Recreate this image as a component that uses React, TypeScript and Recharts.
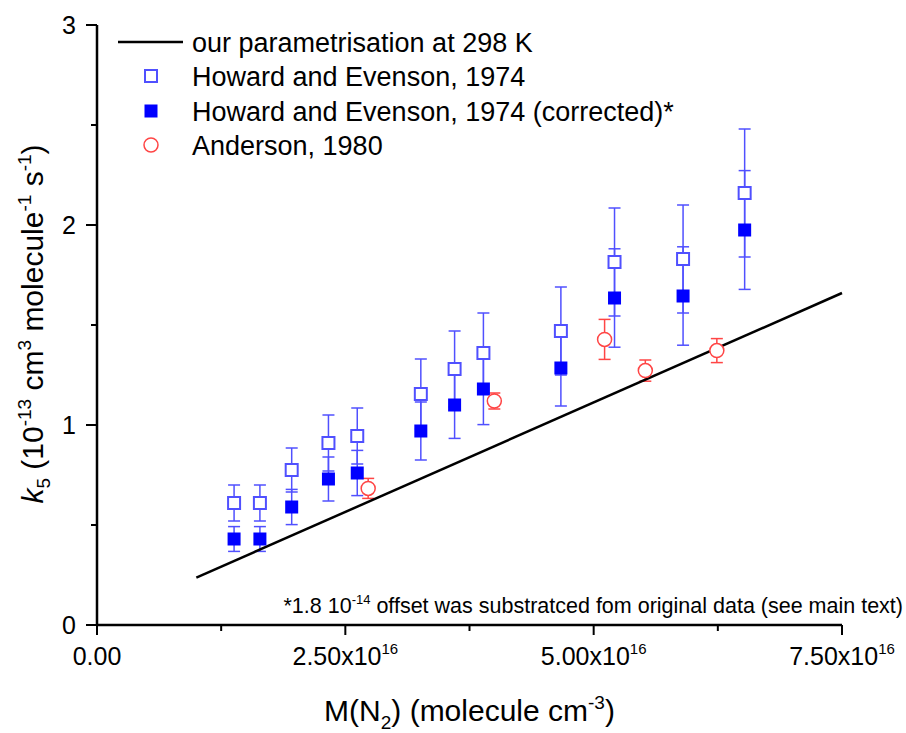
import React from 'react';
import { ScatterChart, Scatter, XAxis, YAxis, ErrorBar } from 'recharts';

const FONT = '"Liberation Sans", Arial, sans-serif';

// M(N2) in molecule cm^-3, k5 in 1e-13 cm3 molecule-1 s-1
const heX = [1.38e16, 1.64e16, 1.96e16, 2.33e16, 2.62e16, 3.26e16, 3.6e16, 3.89e16, 4.67e16, 5.21e16, 5.9e16, 6.52e16];
const heRaw = [0.61, 0.61, 0.775, 0.91, 0.945, 1.155, 1.28, 1.36, 1.47, 1.815, 1.83, 2.16];
const heRawErr = [0.09, 0.09, 0.11, 0.14, 0.14, 0.175, 0.19, 0.2, 0.22, 0.27, 0.27, 0.32];
const heCorr = [0.43, 0.43, 0.59, 0.73, 0.76, 0.97, 1.1, 1.18, 1.285, 1.635, 1.645, 1.975];
const heCorrErr = [0.062, 0.062, 0.088, 0.11, 0.113, 0.145, 0.167, 0.178, 0.19, 0.246, 0.246, 0.297];
const andX = [2.73e16, 4.0e16, 5.11e16, 5.52e16, 6.24e16];
const andK = [0.683, 1.12, 1.428, 1.272, 1.372];
const andErr = [0.05, 0.04, 0.1, 0.053, 0.06];
const fitX = [1.0e16, 7.5e16];
const fitK = [0.237, 1.66];

const xTicks = [0, 1.25e16, 2.5e16, 3.75e16, 5e16, 6.25e16, 7.5e16];
const xTickLabels: Record<number, [string, string]> = {
  0: ['0.00', ''],
  2.5e16: ['2.50x10', '16'],
  5e16: ['5.00x10', '16'],
  7.5e16: ['7.50x10', '16'],
};
const yTicks = [0, 0.5, 1, 1.5, 2, 2.5, 3];

const legendItems = [
  'our parametrisation at 298 K',
  'Howard and Evenson, 1974',
  'Howard and Evenson, 1974 (corrected)*',
  'Anderson, 1980',
];

const BLUE = '#0000ff';
const LIGHT_BLUE = '#5050ff';
const RED = '#ff4545';

const rawData = heX.map((x, i) => ({ x, y: heRaw[i], err: heRawErr[i] }));
const corrData = heX.map((x, i) => ({ x, y: heCorr[i], err: heCorrErr[i] }));
const andData = andX.map((x, i) => ({ x, y: andK[i], err: andErr[i] }));
const fitData = fitX.map((x, i) => ({ x, y: fitK[i] }));

const OpenSquare = (p: any) => (
  <rect x={p.cx - 6} y={p.cy - 6} width={12} height={12} fill="#fff" stroke={LIGHT_BLUE} strokeWidth={2} />
);
const FilledSquare = (p: any) => (
  <rect x={p.cx - 6.5} y={p.cy - 6.5} width={13} height={13} fill={BLUE} />
);
const OpenCircle = (p: any) => <circle cx={p.cx} cy={p.cy} r={7} fill="#fff" stroke={RED} strokeWidth={1.5} />;
const NoDot = () => <g />;

const XTick = ({ x, y, payload }: any) => {
  const lab = xTickLabels[payload.value];
  return (
    <g>
      <line x1={x} x2={x} y1={y} y2={y + (lab ? 10 : 6)} stroke="#000" strokeWidth={2} />
      {lab && (
        <text x={x} y={y + 40} textAnchor="middle" fontFamily={FONT} fontSize={25} fill="#000">
          {lab[0]}
          {lab[1] && (
            <tspan fontSize={15} dy={-11}>
              {lab[1]}
            </tspan>
          )}
        </text>
      )}
    </g>
  );
};

const YTick = ({ x, y, payload }: any) => {
  const major = Number.isInteger(payload.value);
  return (
    <g>
      <line x1={x - (major ? 11 : 6)} x2={x} y1={y} y2={y} stroke="#000" strokeWidth={2} />
      {major && (
        <text x={x - 21} y={y + 9} textAnchor="end" fontFamily={FONT} fontSize={25} fill="#000">
          {payload.value}
        </text>
      )}
    </g>
  );
};

const XTitle = ({ viewBox }: any) => {
  const cx = viewBox.x + viewBox.width / 2;
  return (
    <text x={cx} y={721} textAnchor="middle" fontFamily={FONT} fontSize={30} fill="#000">
      M(N
      <tspan fontSize={19} dy={8}>2</tspan>
      <tspan dy={-8}>) (molecule cm</tspan>
      <tspan fontSize={19} dy={-12}>-3</tspan>
      <tspan dy={12}>)</tspan>
    </text>
  );
};

const YTitle = () => (
  <text
    x={0}
    y={0}
    transform="translate(43,324) rotate(-90)"
    textAnchor="middle"
    fontFamily={FONT}
    fontSize={30}
    fill="#000"
  >
    <tspan fontStyle="italic">k</tspan>
    <tspan fontSize={19} dy={7}>5</tspan>
    <tspan dy={-7}> (10</tspan>
    <tspan fontSize={19} dy={-12}>-13</tspan>
    <tspan dy={12}> cm</tspan>
    <tspan fontSize={19} dy={-12}>3</tspan>
    <tspan dy={12}> molecule</tspan>
    <tspan fontSize={19} dy={-12}>-1</tspan>
    <tspan dy={12}> s</tspan>
    <tspan fontSize={19} dy={-12}>-1</tspan>
    <tspan dy={12}>)</tspan>
  </text>
);

const Overlay = () => {
  const rowY = [42, 76, 111, 145];
  return (
    <svg width={906} height={733} style={{ position: 'absolute', left: 0, top: 0, pointerEvents: 'none' }}>
      <line x1={118} x2={183} y1={rowY[0]} y2={rowY[0]} stroke="#000" strokeWidth={2.5} />
      <OpenSquare cx={151} cy={rowY[1]} />
      <FilledSquare cx={151} cy={rowY[2]} />
      <OpenCircle cx={151} cy={rowY[3]} />
      {legendItems.map((t, i) => (
        <text key={t} x={192} y={rowY[i] + 9.5} fontFamily={FONT} fontSize={27} fill="#000">
          {t}
        </text>
      ))}
      <text x={903} y={613} textAnchor="end" fontFamily={FONT} fontSize={21.5} fill="#000">
        *1.8 10
        <tspan fontSize={13} dy={-9}>-14</tspan>
        <tspan dy={9}> offset was substratced fom original data (see main text)</tspan>
      </text>
      <YTitle />
    </svg>
  );
};

export default function App() {
  return (
    <div style={{ position: 'absolute', left: 0, top: 0, width: 906, height: 733, background: '#fff' }}>
      <ScatterChart width={906} height={733} margin={{ top: 25, right: 64, bottom: 48, left: 37 }}>
        <XAxis
          type="number"
          dataKey="x"
          domain={[0, 7.5e16]}
          ticks={xTicks}
          interval={0}
          height={60}
          tickSize={0}
          tickMargin={0}
          tickLine={false}
          axisLine={{ stroke: '#000', strokeWidth: 2.5 }}
          tick={<XTick />}
          label={{ content: <XTitle /> } as any}
        />
        <YAxis
          type="number"
          dataKey="y"
          domain={[0, 3]}
          ticks={yTicks}
          interval={0}
          width={60}
          tickSize={0}
          tickMargin={0}
          tickLine={false}
          axisLine={{ stroke: '#000', strokeWidth: 2.5 }}
          tick={<YTick />}
        />
        <Scatter data={fitData} line={{ stroke: '#000', strokeWidth: 2.5 }} shape={<NoDot />} isAnimationActive={false} />
        <Scatter data={rawData} shape={<OpenSquare />} isAnimationActive={false}>
          <ErrorBar dataKey="err" direction="y" width={6} stroke={LIGHT_BLUE} strokeWidth={1.5} />
        </Scatter>
        <Scatter data={corrData} shape={<FilledSquare />} isAnimationActive={false}>
          <ErrorBar dataKey="err" direction="y" width={6} stroke={LIGHT_BLUE} strokeWidth={1.5} />
        </Scatter>
        <Scatter data={andData} shape={<OpenCircle />} isAnimationActive={false}>
          <ErrorBar dataKey="err" direction="y" width={6} stroke={RED} strokeWidth={1.5} />
        </Scatter>
      </ScatterChart>
      <Overlay />
    </div>
  );
}
